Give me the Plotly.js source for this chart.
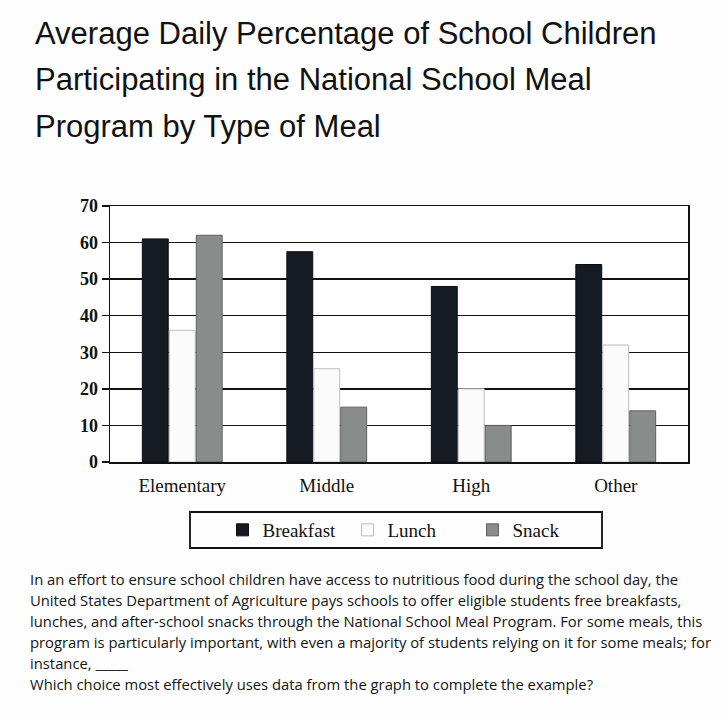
<!DOCTYPE html>
<html>
<head>
<meta charset="utf-8">
<script src="https://cdn.plot.ly/plotly-3.0.1.min.js"></script>
<style>html,body{margin:0;padding:0;background:#fff;}#chart{width:726px;height:722px;}</style>
</head>
<body>
<div id="chart"></div>
<script>
const categories = ["Elementary", "Middle", "High", "Other"];
const breakfast = [61, 57.5, 48, 54];
const lunch = [36, 25.5, 20, 32];
const snack = [62, 15, 10, 14];
const seriesNames = ["Breakfast", "Lunch", "Snack"];
const yTicks = [0, 10, 20, 30, 40, 50, 60, 70];
const titleLines = [
  "Average Daily Percentage of School Children",
  "Participating in the National School Meal",
  "Program by Type of Meal"
];
const paragraphLines = [
  "In an effort to ensure school children have access to nutritious food during the school day, the",
  "United States Department of Agriculture pays schools to offer eligible students free breakfasts,",
  "lunches, and after-school snacks through the National School Meal Program. For some meals, this",
  "program is particularly important, with even a majority of students relying on it for some meals; for",
  "instance, _____",
  "Which choice most effectively uses data from the graph to complete the example?"
];

const W = 726, H = 722;
const M = {l: 110, r: 38, t: 206, b: 260};
const pw = W - M.l - M.r, ph = H - M.t - M.b;
const px = x => (x - M.l) / pw;
const py = y => (H - M.b - y) / ph;

const serif = "Liberation Serif, Times New Roman, serif";

const traces = [
  {type: "bar", name: seriesNames[0], x: categories, y: breakfast,
   marker: {color: "#161a22", line: {color: "#0a0c10", width: 1}}},
  {type: "bar", name: seriesNames[1], x: categories, y: lunch,
   marker: {color: "#fbfbfc", line: {color: "#bdbdbd", width: 1}}},
  {type: "bar", name: seriesNames[2], x: categories, y: snack,
   marker: {color: "#898c8a", line: {color: "#5e605f", width: 1}}}
];

const annotations = [];
titleLines.forEach((t, i) => {
  annotations.push({text: t, xref: "paper", yref: "paper", x: px(33), y: py(33 + i * 46.5),
    xanchor: "left", yanchor: "middle", showarrow: false,
    font: {family: "Liberation Sans, Arial, sans-serif", size: 31, color: "#111"}});
});
paragraphLines.forEach((t, i) => {
  annotations.push({text: t, xref: "paper", yref: "paper", x: px(28), y: py(579 + i * 21),
    xanchor: "left", yanchor: "middle", showarrow: false,
    font: {family: "Open Sans, sans-serif", size: 14.8, color: "#151515"}});
});

const layout = {
  width: W, height: H,
  margin: M,
  paper_bgcolor: "#fefefe",
  plot_bgcolor: "#ffffff",
  barmode: "group",
  bargap: 0.44,
  bargroupgap: 0.04,
  showlegend: true,
  legend: {
    orientation: "h", xref: "paper", yref: "paper",
    x: px(410), xanchor: "center", y: py(530), yanchor: "middle",
    borderwidth: 0, bgcolor: "rgba(0,0,0,0)",
    font: {family: serif, size: 19, color: "#111"},
    entrywidth: 80, itemwidth: 30
  },
  shapes: [{type: "rect", xref: "paper", yref: "paper",
    x0: px(190), x1: px(602), y0: py(512), y1: py(548),
    line: {color: "#111", width: 1.8}, fillcolor: "rgba(0,0,0,0)", layer: "below"}],
  xaxis: {
    type: "category",
    showline: true, linecolor: "#111", linewidth: 1.5, mirror: true,
    ticks: "", ticklabelstandoff: 6, tickfont: {family: serif, size: 19, color: "#111"},
    showgrid: false
  },
  yaxis: {
    range: [0, 70], tickvals: yTicks, ticktext: yTicks.map(String),
    showline: true, linecolor: "#111", linewidth: 1.5, mirror: true,
    showgrid: true, gridcolor: "#111", gridwidth: 1.5,
    ticks: "outside", ticklen: 7, tickcolor: "#111", tickwidth: 1.5,
    tickfont: {family: serif, size: 18, color: "#111", weight: "bold"},
    zeroline: false
  },
  annotations: annotations
};

Plotly.newPlot("chart", traces, layout, {displayModeBar: false, staticPlot: true});
</script>
</body>
</html>
